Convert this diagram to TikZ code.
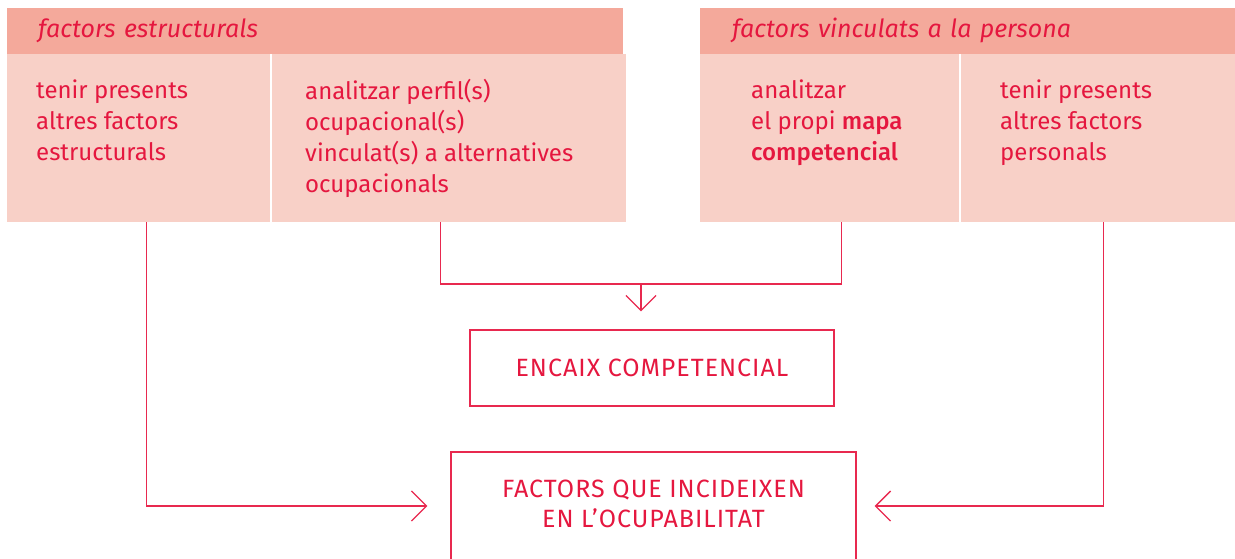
\documentclass[tikz,border=0pt]{standalone}
\usepackage{fontspec}
\setmainfont{Fira Sans}[BoldFont={Fira Sans Medium}]
\usetikzlibrary{positioning,arrows.meta}

\definecolor{hdrpink}{HTML}{F4A99B}
\definecolor{cellpink}{HTML}{F8D0C7}
\definecolor{crimson}{HTML}{E5173F}
\definecolor{linered}{HTML}{E8294F}

\newcommand{\bodyfont}{\fontsize{24}{31}\selectfont}
\newcommand{\hdrfont}{\fontsize{25}{31}\selectfont\itshape}
\newcommand{\boxfont}{\fontsize{25}{30}\selectfont\addfontfeatures{LetterSpace=4}}

\tikzset{
  hdr/.style={fill=hdrpink, inner sep=0pt, minimum height=46pt,
    anchor=north west, text=crimson, font=\hdrfont,
    align=left, text height=17pt, text depth=5pt},
  cell/.style={fill=cellpink, inner sep=0pt, minimum height=168pt,
    anchor=north west},
  celltext/.style={text=crimson, font=\bodyfont, align=left,
    inner sep=0pt, anchor=north west, execute at begin node=\strut},
  box/.style={draw=linered, line width=1.3pt, text=crimson,
    font=\boxfont, align=center},
  line/.style={draw=linered, line width=1.3pt},
  link/.style={line, -{Straight Barb[length=15pt,width=30pt]}}
}

\begin{document}
\begin{tikzpicture}[x=1pt,y=-1pt]
\clip (0,0) rectangle (1235,558);

% left block
\node[hdr, minimum width=616pt, inner xsep=31pt, text width=554pt] (hdrA) at (7,8) {factors estructurals};
\node[cell, minimum width=263pt] (cellA1) at (7,54) {};
\node[cell, minimum width=354pt] (cellA2) at (272,54) {};
\node[celltext] (txtA1) at ([shift={(29,25.5)}]cellA1.north west) {tenir presents\\altres factors\\estructurals};
\node[celltext] (txtA2) at ([shift={(33,25.5)}]cellA2.north west) {analitzar perfil(s)\\ocupacional(s)\\vinculat(s) a alternatives\\ocupacionals};

% right block
\node[hdr, minimum width=535pt, inner xsep=32pt, text width=471pt] (hdrB) at (700,8) {factors vinculats a la persona};
\node[cell, minimum width=259pt] (cellB1) at (700,54) {};
\node[cell, minimum width=274pt] (cellB2) at (961,54) {};
\node[celltext] (txtB1) at ([shift={(51,25.5)}]cellB1.north west) {analitzar\\el propi \textbf{mapa}\\\textbf{competencial}};
\node[celltext] (txtB2) at ([shift={(39,25.5)}]cellB2.north west) {tenir presents\\altres factors\\personals};

% result boxes
\node[box, minimum width=364pt, minimum height=76pt] (box1) at (652,368) {ENCAIX COMPETENCIAL};
\node[box, minimum width=405pt, minimum height=108pt] (box2) at (653.5,506) {FACTORS QUE INCIDEIXEN\\EN L'OCUPABILITAT\rule[-4pt]{0pt}{0pt}};

% connectors
\coordinate (merge) at (641,284);
\draw[line] ([xshift=-9pt]cellA2.south) |- (merge) -| ([xshift=11.5pt]cellB1.south);
\draw[link, shorten >=18pt] (merge) -- (merge |- box1.north);
\draw[link, shorten >=23pt] ([xshift=8pt]cellA1.south) |- (box2.west);
\draw[link, shorten >=18pt] ([xshift=5.5pt]cellB2.south) |- (box2.east);

\end{tikzpicture}
\end{document}
